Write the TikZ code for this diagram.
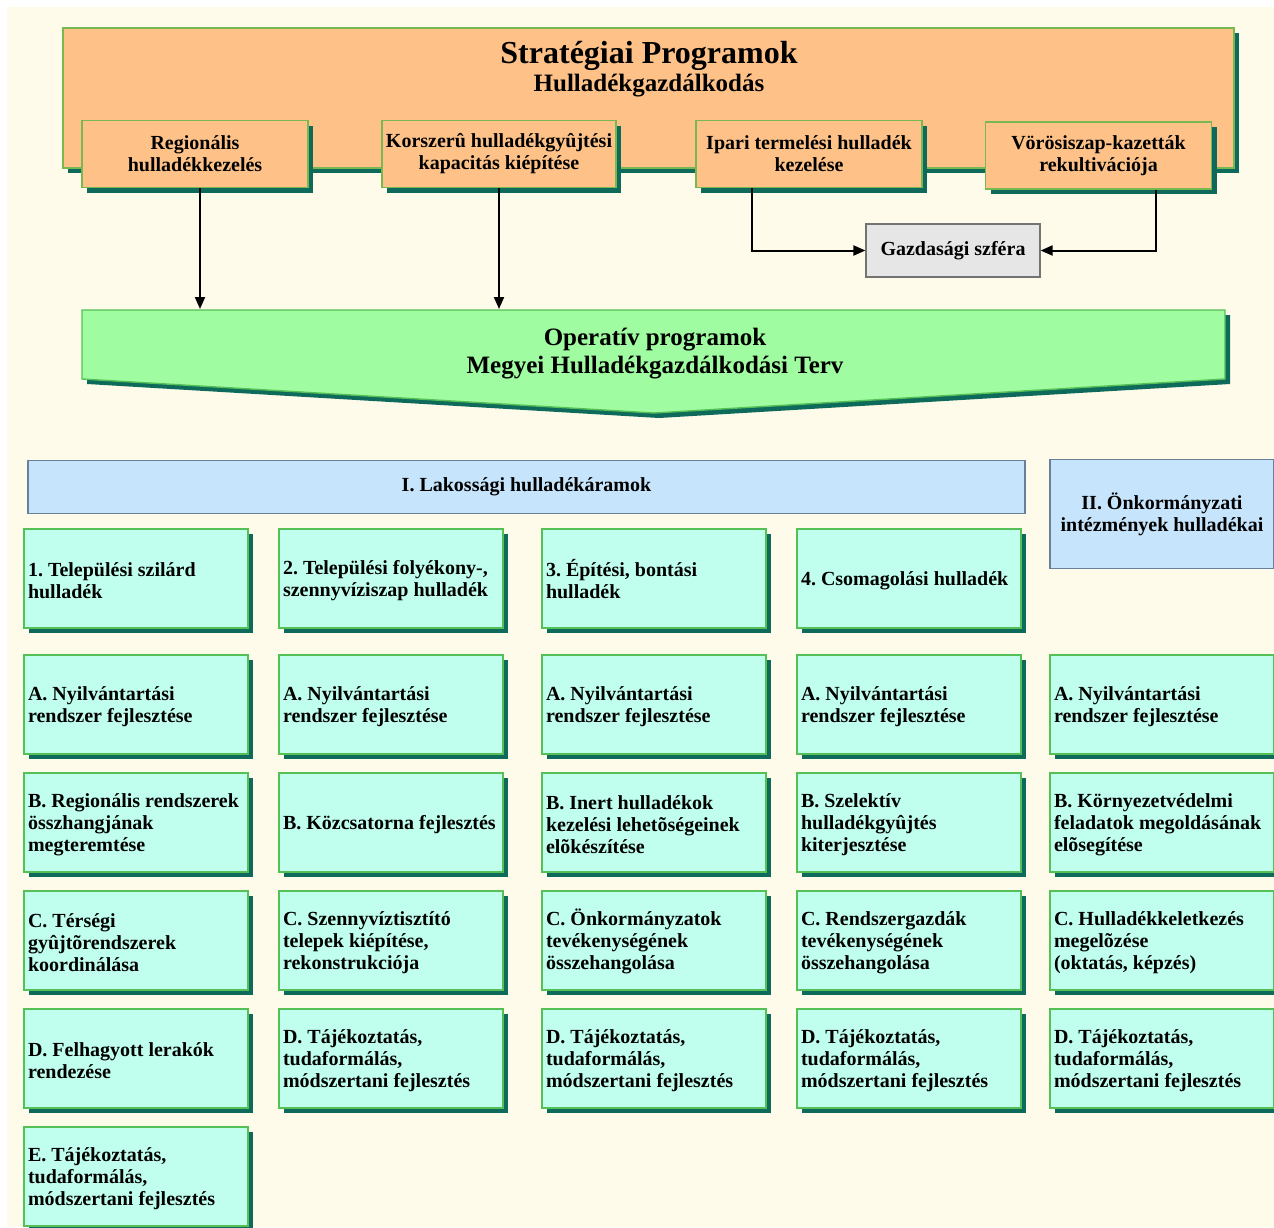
\documentclass[tikz,border=0pt]{standalone}
\usepackage{fontspec}
\setmainfont{Liberation Serif}
\usetikzlibrary{arrows.meta,shadows}
\definecolor{bgcream}{HTML}{FFFBEA}
\definecolor{orangef}{HTML}{FEC289}
\definecolor{orangeline}{HTML}{78B850}
\definecolor{shadowteal}{HTML}{0E6B5C}
\definecolor{greenf}{HTML}{A0FCA0}
\definecolor{cyanf}{HTML}{C0FFEE}
\definecolor{cyanline}{HTML}{55C055}
\definecolor{bluef}{HTML}{C6E4FB}
\definecolor{blueline}{HTML}{6A7F99}
\definecolor{grayf}{HTML}{E6E6E6}
\begin{document}
\begin{tikzpicture}[x=0.5pt, y=-0.5pt, font=\fontsize{10}{11}\selectfont\bfseries\frenchspacing,
  boxshadow/.style={drop shadow={shadow xshift=2.5pt, shadow yshift=-2.5pt, fill=shadowteal, opacity=1}},
  orangebox/.style={draw=orangeline, line width=0.7pt, fill=orangef, boxshadow, minimum width=113pt, minimum height=33.5pt, align=center, inner sep=1pt, execute at begin node={\rule{0pt}{9pt}}},
  cyanbox/.style={draw=cyanline, line width=0.7pt, fill=cyanf, boxshadow, minimum width=112pt, minimum height=49.5pt, text width=108pt, inner xsep=2pt, align=flush left, execute at begin node={\rule{0pt}{9pt}}},
  bluebox/.style={draw=blueline, line width=0.6pt, fill=bluef, align=center},
  arr/.style={-{Triangle[length=6pt,width=5pt]}, line width=1pt, draw=black}]
\useasboundingbox (0,0) rectangle (1274,1227);
\fill[bgcream] (7,7) rectangle (1274,1227);

% strategic programmes
\node[draw=orangeline, line width=0.7pt, fill=orangef, boxshadow, minimum width=585.5pt, minimum height=70pt] (strat) at (648.5,98) {};
\node[font=\fontsize{16}{18}\selectfont\bfseries] (title) at (649,56) {Stratégiai Programok};
\node[font=\fontsize{12.5}{14}\selectfont\bfseries] (subtitle) at (649,86) {Hulladékgazdálkodás};
\node[orangebox] (reg) at (195,154) {Regionális\\hulladékkezelés};
\node[orangebox, minimum width=117pt] (korsz) at (499,154) {Korszerû hulladékgyûjtési\\kapacitás kiépítése};
\node[orangebox] (ipar) at (809,154) {Ipari termelési hulladék\\kezelése};
\node[orangebox] (voros) at (1098.5,155.5) {Vörösiszap-kazetták\\rekultivációja};
\node[draw=black!55, line width=0.6pt, fill=grayf, minimum width=87pt, minimum height=26.5pt] (gazd) at (953,250.5) {Gazdasági szféra};

% operative programmes
\path[draw=cyanline, line width=0.7pt, fill=greenf, boxshadow] (82,310) -- (1225,310) -- (1225,379) -- (654,413) -- (82,379) -- cycle;
\node[font=\fontsize{12.5}{14}\selectfont\bfseries, align=center] (oper) at (655,354) {Operatív programok\\Megyei Hulladékgazdálkodási Terv};
\coordinate (inreg) at (200,309);
\coordinate (inkorsz) at (499,309);

\draw[arr] (reg.south -| inreg) -- (inreg);
\draw[arr] (korsz.south) -- (inkorsz);
\draw[arr] ([xshift=-28.5pt]ipar.south) |- (gazd.west);
\draw[arr] ([xshift=28.5pt]voros.south) |- (gazd.east);

% waste streams
\node[bluebox, minimum width=498.5pt, minimum height=26.5pt] (lak) at (526.5,487) {I. Lakossági hulladékáramok};
\node[bluebox, minimum width=112pt, minimum height=54.5pt] (onk) at (1162,514) {II. Önkormányzati\\intézmények hulladékai};

\node[cyanbox] (cat1) at (136,578.5) {1. Települési szilárd\\hulladék};
\node[cyanbox] (cat2) at (391,578.5) {2. Települési folyékony-,\\szennyvíziszap hulladék};
\node[cyanbox] (cat3) at (654,578.5) {3. Építési, bontási\\hulladék};
\node[cyanbox] (cat4) at (909,578.5) {4. Csomagolási hulladék};

\node[cyanbox] (a1) at (136,704.5) {A. Nyilvántartási\\rendszer fejlesztése};
\node[cyanbox] (a2) at (391,704.5) {A. Nyilvántartási\\rendszer fejlesztése};
\node[cyanbox] (a3) at (654,704.5) {A. Nyilvántartási\\rendszer fejlesztése};
\node[cyanbox] (a4) at (909,704.5) {A. Nyilvántartási\\rendszer fejlesztése};
\node[cyanbox] (a5) at (1162,704.5) {A. Nyilvántartási\\rendszer fejlesztése};

\node[cyanbox] (b1) at (136,822.5) {B. Regionális rendszerek\\összhangjának\\megteremtése};
\node[cyanbox] (b2) at (391,822.5) {B. Közcsatorna fejlesztés};
\node[cyanbox] (b3) at (654,822.5) {B. Inert hulladékok\\kezelési lehetõségeinek\\elõkészítése};
\node[cyanbox] (b4) at (909,822.5) {B. Szelektív\\hulladékgyûjtés\\kiterjesztése};
\node[cyanbox] (b5) at (1162,822.5) {B. Környezetvédelmi\\feladatok megoldásának\\elõsegítése};

\node[cyanbox] (c1) at (136,940.5) {C. Térségi\\gyûjtõrendszerek\\koordinálása};
\node[cyanbox] (c2) at (391,940.5) {C. Szennyvíztisztító\\telepek kiépítése,\\rekonstrukciója};
\node[cyanbox] (c3) at (654,940.5) {C. Önkormányzatok\\tevékenységének\\összehangolása};
\node[cyanbox] (c4) at (909,940.5) {C. Rendszergazdák\\tevékenységének\\összehangolása};
\node[cyanbox] (c5) at (1162,940.5) {C. Hulladékkeletkezés\\megelõzése\\(oktatás, képzés)};

\node[cyanbox] (d1) at (136,1058.5) {D. Felhagyott lerakók\\rendezése};
\node[cyanbox] (d2) at (391,1058.5) {D. Tájékoztatás,\\tudaformálás,\\módszertani fejlesztés};
\node[cyanbox] (d3) at (654,1058.5) {D. Tájékoztatás,\\tudaformálás,\\módszertani fejlesztés};
\node[cyanbox] (d4) at (909,1058.5) {D. Tájékoztatás,\\tudaformálás,\\módszertani fejlesztés};
\node[cyanbox] (d5) at (1162,1058.5) {D. Tájékoztatás,\\tudaformálás,\\módszertani fejlesztés};

\node[cyanbox] (e1) at (136,1176.5) {E. Tájékoztatás,\\tudaformálás,\\módszertani fejlesztés};
\end{tikzpicture}
\end{document}
